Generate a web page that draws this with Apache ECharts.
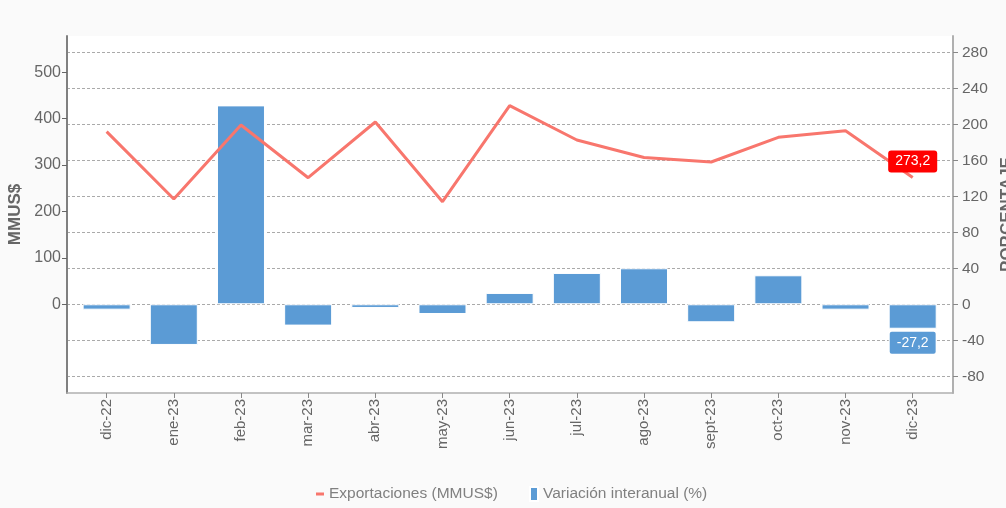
<!DOCTYPE html>
<html>
<head>
<meta charset="utf-8">
<script src="https://cdn.jsdelivr.net/npm/echarts@6/dist/echarts.min.js"></script>
<style>
  html, body { margin: 0; padding: 0; background: #f7f7f7; }
  #chart { width: 1006px; height: 508px; }
</style>
</head>
<body>
<div id="chart"></div>
<script>
// data
const categories = ['dic-22', 'ene-23', 'feb-23', 'mar-23', 'abr-23', 'may-23', 'jun-23',
  'jul-23', 'ago-23', 'sept-23', 'oct-23', 'nov-23', 'dic-23'];
const exportaciones = [372, 227, 386.4, 272.8, 392.9, 221.1, 428, 354, 316.5, 306.7, 359.9, 374.2, 273.2];
const variacion = [-6.0, -45.2, 221, -23.7, -4.1, -10.8, 12.6, 34.8, 40.0, -20.0, 32.2, -6.0, -27.2];
const mmusTicks = [0, 100, 200, 300, 400, 500];
const pctTicks = [-80, -40, 0, 40, 80, 120, 160, 200, 240, 280];

const serieExp = 'Exportaciones (MMUS$)';
const serieVar = 'Variación interanual (%)';
const font = "'Liberation Sans', Arial, sans-serif";
const last = categories.length - 1;

const coma = v => String(v).replace('.', ',');

const lineData = exportaciones.map((v, i) => {
  if (i !== last) return [i, v];
  return {
    value: [i, v],
    label: {
      show: true, position: 'top', distance: 5,
      color: '#fff', fontSize: 14, backgroundColor: '#ff0000',
      borderRadius: 3, padding: [4, 7],
      formatter: p => coma(p.value[1])
    }
  };
});

const barData = variacion.map((v, i) => {
  if (i !== last) return [i, v];
  return {
    value: [i, v],
    label: {
      show: true, position: 'bottom', distance: 3,
      color: '#fff', fontSize: 14, backgroundColor: '#5b9bd5',
      borderColor: '#fff', borderWidth: 1, borderRadius: 2, padding: [4, 7],
      formatter: p => coma(p.value[1])
    }
  };
});

const chart = echarts.init(document.getElementById('chart'));
chart.setOption({
  backgroundColor: '#fafafa',
  animation: false,
  textStyle: { fontFamily: font },
  grid: {
    left: 67, right: 53, top: 36, bottom: 115,
    containLabel: false, outerBoundsMode: 'none',
    show: true, backgroundColor: '#fff', borderWidth: 0
  },
  legend: [
    {
      data: [{ name: serieExp, icon: 'rect' }],
      left: 316, top: 486, padding: 0,
      itemWidth: 8, itemHeight: 3, itemGap: 5,
      textStyle: { color: '#808080', fontSize: 15.5, fontFamily: font }
    },
    {
      data: [{ name: serieVar, icon: 'rect' }],
      left: 529, top: 486, padding: 0,
      itemWidth: 8, itemHeight: 14, itemGap: 5,
      textStyle: { color: '#808080', fontSize: 15.5, fontFamily: font }
    }
  ],
  xAxis: {
    type: 'value',
    min: -0.59,
    max: 12.6,
    axisLine: { onZero: false, lineStyle: { color: '#b0b0b0', width: 1.5 } },
    axisTick: { show: true, length: 5, customValues: categories.map((c, i) => i), lineStyle: { color: '#888' } },
    axisLabel: {
      customValues: categories.map((c, i) => i),
      rotate: 90, margin: 6, color: '#666', fontSize: 15,
      formatter: v => categories[v]
    },
    splitLine: { show: false }
  },
  yAxis: [
    {
      type: 'value',
      min: -191.2,
      max: 578.2,
      name: 'MMUS$',
      nameLocation: 'middle',
      nameGap: 38,
      nameTextStyle: { color: '#666', fontSize: 17, fontWeight: 'bold' },
      axisLine: { show: true, onZero: false, lineStyle: { color: '#808080', width: 2 } },
      axisTick: { show: true, length: 5, customValues: mmusTicks, lineStyle: { color: '#666' } },
      axisLabel: { customValues: mmusTicks, margin: 6, color: '#666', fontSize: 16 },
      splitLine: { show: false }
    },
    {
      type: 'value',
      position: 'right',
      min: -98.6,
      max: 298.1,
      name: 'PORCENTAJE',
      nameLocation: 'middle',
      nameGap: 39,
      nameTextStyle: { color: '#666', fontSize: 17, fontWeight: 'bold' },
      axisLine: { show: true, onZero: false, lineStyle: { color: '#b0b0b0', width: 2 } },
      axisTick: { show: true, length: 5, customValues: pctTicks, lineStyle: { color: '#888' } },
      axisLabel: { customValues: pctTicks, margin: 9, color: '#666', fontSize: 15.5 },
      splitLine: { show: true, lineStyle: { color: '#aaa', type: [3, 2], width: 1 } }
    }
  ],
  series: [
    {
      name: serieVar,
      type: 'bar',
      yAxisIndex: 1,
      barWidth: 48,
      itemStyle: { color: '#5b9bd5', borderColor: '#fff', borderWidth: 1 },
      data: barData,
      z: 2
    },
    {
      name: serieExp,
      type: 'line',
      yAxisIndex: 0,
      symbol: 'circle',
      symbolSize: 0,
      showSymbol: true,
      itemStyle: { color: '#f8766d' },
      lineStyle: { color: '#f8766d', width: 3 },
      data: lineData,
      z: 3
    }
  ]
});
</script>
</body>
</html>
